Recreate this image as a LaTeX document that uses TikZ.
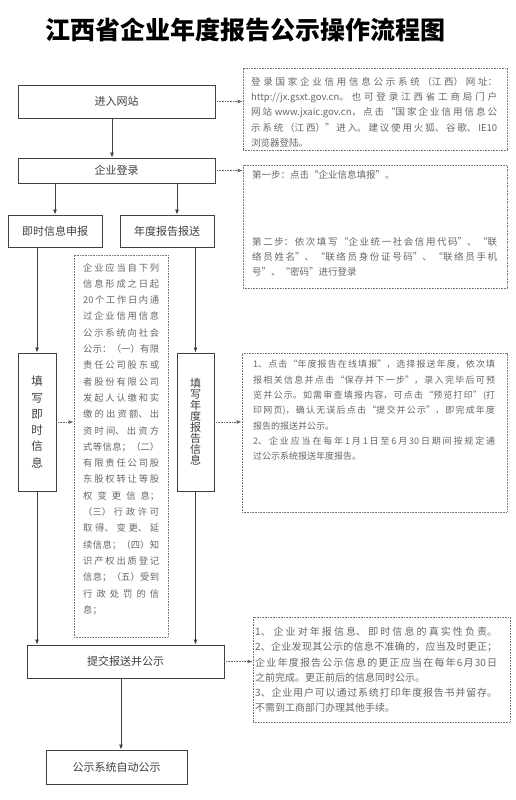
\documentclass[tikz,border=0pt]{standalone}
\usepackage{fontspec}
\setmainfont{Noto Sans CJK SC}
\usetikzlibrary{arrows.meta}
\XeTeXlinebreaklocale "zh"
\XeTeXlinebreakskip=0pt plus 4pt
\tikzset{
  stepbox/.style={draw=black!75,line width=0.9pt,fill=white,inner sep=0pt,
    text=black!75,font=\fontsize{11}{13}\selectfont},
  notebox/.style={draw=black!55,line width=0.8pt,dash pattern=on 0.8pt off 0.8pt},
  notetext/.style={anchor=north west,inner sep=0pt,align=justify,text=black!60,
    font=\fontsize{9.5}{15.3}\selectfont},
  flow/.style={draw=black!75,line width=0.8pt,-{Latex[length=5pt,width=4pt]}},
  link/.style={draw=black!60,line width=0.8pt,dash pattern=on 0.8pt off 0.8pt,
    -{Latex[length=5pt,width=4pt]}},
}
\begin{document}
\begin{tikzpicture}[x=1pt,y=-1pt]
\useasboundingbox (0,0) rectangle (516,800);
\node[font=\fontsize{25}{28}\selectfont\bfseries] (title) at (245,30) {江西省企业年度报告公示操作流程图};
\node[stepbox,minimum width=197,minimum height=33] (enter) at (116.5,101.5) {进入网站};
\node[stepbox,minimum width=197,minimum height=25] (login) at (116.5,170.5) {企业登录};
\node[stepbox,minimum width=94,minimum height=32] (jssb) at (55,231) {即时信息申报};
\node[stepbox,minimum width=94,minimum height=32] (ndbs) at (167,231) {年度报告报送};
\node[stepbox,minimum width=38,minimum height=138,align=center,
  font=\fontsize{11.5}{16.3}\selectfont] (fillnow) at (37,422) {填\\写\\即\\时\\信\\息};
\node[stepbox,minimum width=37,minimum height=138,align=center,
  font=\fontsize{11}{11}\selectfont] (fillyear) at (195.5,422) {填\\写\\年\\度\\报\\告\\信\\息};
\node[stepbox,minimum width=197,minimum height=33] (submit) at (125.5,661.5) {提交报送并公示};
\node[stepbox,minimum width=141,minimum height=34] (auto) at (116.5,767) {公示系统自动公示};
\node[notebox,minimum width=94,minimum height=382] (midnote) at (121,446) {};
\node[notebox,minimum width=264,minimum height=82] (note1) at (375,109) {};
\node[notebox,minimum width=264,minimum height=123] (note2) at (375,226.5) {};
\node[notebox,minimum width=265,minimum height=159] (note3) at (374.5,432.5) {};
\node[notebox,minimum width=257,minimum height=105] (note4) at (381.5,669.5) {};
\node[notetext,text width=76,font=\fontsize{9.3}{16.3}\selectfont] (midtext) at (83,263) {%
企业应当自下列\linebreak 信息形成之日起\linebreak 20个工作日内通\linebreak
过企业信用信息\linebreak 公示系统向社会\linebreak 公示：（一）有限\linebreak
责任公司股东或\linebreak 者股份有限公司\linebreak 发起人认缴和实\linebreak
缴的出资额、出\linebreak 资时间、出资方\linebreak 式等信息；（二）\linebreak
有限责任公司股\linebreak 东股权转让等股\linebreak 权变更信息；\linebreak
（三）行政许可\linebreak 取得、变更、延\linebreak 续信息；（四）知\linebreak
识产权出质登记\linebreak 信息；（五）受到\linebreak 行政处罚的信\linebreak 息；};
\node[notetext,text width=246] (text1) at (251,77) {%
登录国家企业信用信息公示系统（江西）网址：\linebreak
\mbox{http://jx.gsxt.gov.cn}。也可登录江西省工商局门户\linebreak
网站 \mbox{www.jxaic.gov.cn}，点击“国家企业信用信息公\linebreak
示系统（江西）”进入。建议使用火狐、谷歌、IE10\linebreak
浏览器登陆。};
\node[notetext,text width=245] (text2) at (252,170) {%
第一步：点击“企业信息填报”。\\[51.7pt]
第二步：依次填写“企业统一社会信用代码”、“联\linebreak
络员姓名”、“联络员身份证号码”、“联络员手机\linebreak
号”、“密码”进行登录};
\node[notetext,text width=242,font=\fontsize{9}{15.3}\selectfont] (text3) at (253,360) {%
1、点击“年度报告在线填报”，选择报送年度，依次填\linebreak
报相关信息并点击“保存并下一步”，录入完毕后可预\linebreak
览并公示。如需审查填报内容，可点击“预览打印”(打\linebreak
印网页)，确认无误后点击“提交并公示”，即完成年度\linebreak
报告的报送并公示。\\
2、企业应当在每年1月1日至6月30日期间按规定通\linebreak
过公示系统报送年度报告。};
\node[notetext,text width=242,font=\fontsize{10}{15.2}\selectfont] (text4) at (255,627) {%
1、 企业对年报信息、即时信息的真实性负责。\linebreak
2、企业发现其公示的信息不准确的，应当及时更正；\linebreak
企业年度报告公示信息的更正应当在每年6月30日\linebreak
之前完成。更正前后的信息同时公示。\\
3、企业用户可以通过系统打印年度报告书并留存。\linebreak
不需到工商部门办理其他手续。};
\draw[flow] ([xshift=-4.5pt]enter.south) -- ([xshift=-4.5pt]login.north);
\draw[flow] (login.south -| jssb.north) -- (jssb.north);
\draw[flow] ([xshift=10pt]ndbs.north |- login.south) -- ([xshift=10pt]ndbs.north);
\draw[flow] (fillnow.north |- jssb.south) -- (fillnow.north);
\draw[flow] (fillyear.north |- ndbs.south) -- (fillyear.north);
\draw[flow] (fillnow.south) -- (fillnow.south |- submit.north);
\draw[flow] (fillyear.south) -- (fillyear.south |- submit.north);
\draw[flow] ([xshift=-4.5pt]submit.south) -- ([xshift=-4.5pt]submit.south |- auto.north);
\draw[link] (enter.east) -- (enter.east -| note1.west);
\draw[link] (login.east) -- (login.east -| note2.west);
\draw[link] (fillnow.east) -- (fillnow.east -| midnote.west);
\draw[link] (fillyear.east) -- (fillyear.east -| note3.west);
\draw[link] (submit.east) -- (submit.east -| note4.west);
\end{tikzpicture}
\end{document}
